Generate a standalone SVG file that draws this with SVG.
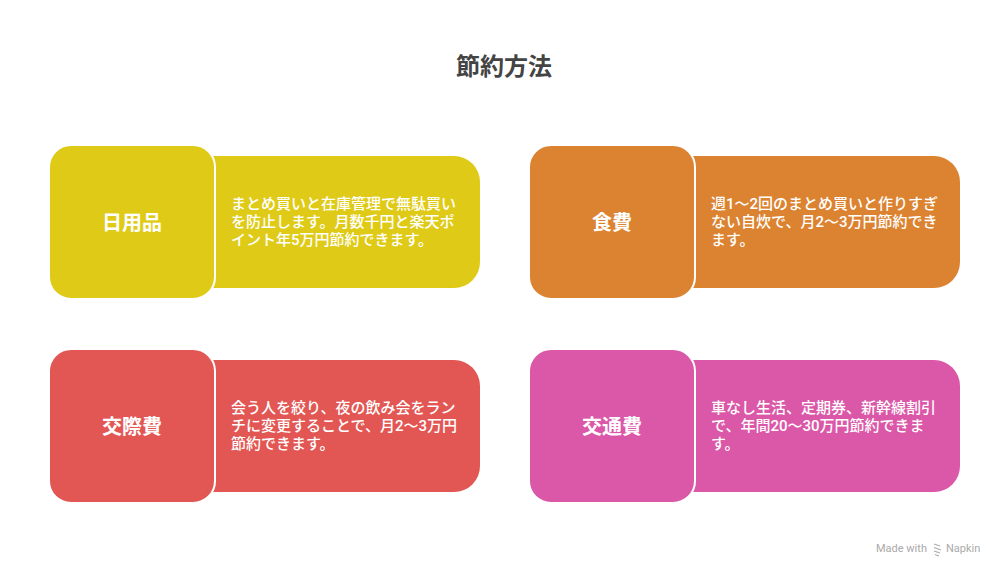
<svg xmlns="http://www.w3.org/2000/svg" width="1008" height="576" viewBox="0 0 1008 576">
<style>
.title{font-family:Roboto,"Noto Sans CJK JP",sans-serif;font-size:24px;font-weight:700;fill:#444444;text-anchor:middle}
.head{font-family:Roboto,"Noto Sans CJK JP",sans-serif;font-size:20px;font-weight:700;fill:#ffffff;text-anchor:middle}
.body{font-family:Roboto,"Noto Sans CJK JP",sans-serif;font-size:15px;font-weight:500;fill:#ffffff}
.sq{stroke:#ffffff;stroke-width:2}
.mark{font-family:Roboto,"Noto Sans",sans-serif;font-size:11px;fill:#aaaaaa}
</style>
<rect width="1008" height="576" fill="#ffffff"/>
<text class="title" x="504" y="75">節約方法</text>

<g id="node-nichiyouhin">
  <rect x="180" y="156" width="300" height="132" rx="26" fill="#DFCB17"/>
  <rect class="sq" x="49" y="145" width="166" height="154" rx="22" fill="#DFCB17"/>
  <text class="head" x="132" y="230">日用品</text>
  <text class="body" x="231" y="208.5">まとめ買いと在庫管理で無駄買い</text>
  <text class="body" x="231" y="226.5">を防止します。月数千円と楽天ポ</text>
  <text class="body" x="231" y="244.5">イント年5万円節約できます。</text>
</g>

<g id="node-shokuhi">
  <rect x="660" y="156" width="300" height="132" rx="26" fill="#DC8331"/>
  <rect class="sq" x="529" y="145" width="166" height="154" rx="22" fill="#DC8331"/>
  <text class="head" x="612" y="230">食費</text>
  <text class="body" x="711" y="208.5">週1〜2回のまとめ買いと作りすぎ</text>
  <text class="body" x="711" y="226.5">ない自炊で、月2〜3万円節約でき</text>
  <text class="body" x="711" y="244.5">ます。</text>
</g>

<g id="node-kousaihi">
  <rect x="180" y="360" width="300" height="132" rx="26" fill="#E25754"/>
  <rect class="sq" x="49" y="349" width="166" height="154" rx="22" fill="#E25754"/>
  <text class="head" x="132" y="434">交際費</text>
  <text class="body" x="231" y="412.5">会う人を絞り、夜の飲み会をラン</text>
  <text class="body" x="231" y="430.5">チに変更することで、月2〜3万円</text>
  <text class="body" x="231" y="448.5">節約できます。</text>
</g>

<g id="node-koutsuuhi">
  <rect x="660" y="360" width="300" height="132" rx="26" fill="#DB57A7"/>
  <rect class="sq" x="529" y="349" width="166" height="154" rx="22" fill="#DB57A7"/>
  <text class="head" x="612" y="434">交通費</text>
  <text class="body" x="711" y="412.5">車なし生活、定期券、新幹線割引</text>
  <text class="body" x="711" y="430.5">で、年間20〜30万円節約できま</text>
  <text class="body" x="711" y="448.5">す。</text>
</g>

<g id="connectors"></g>

<g id="watermark">
  <text class="mark" x="876" y="552">Made with</text>
  <path d="M934 544 l6 2 M934 547.5 l7 2.5 M934 551 l6 2 M935 554.5 l4 1.5" stroke="#aaaaaa" stroke-width="1.2" fill="none"/>
  <text class="mark" x="946" y="552">Napkin</text>
</g>
</svg>
